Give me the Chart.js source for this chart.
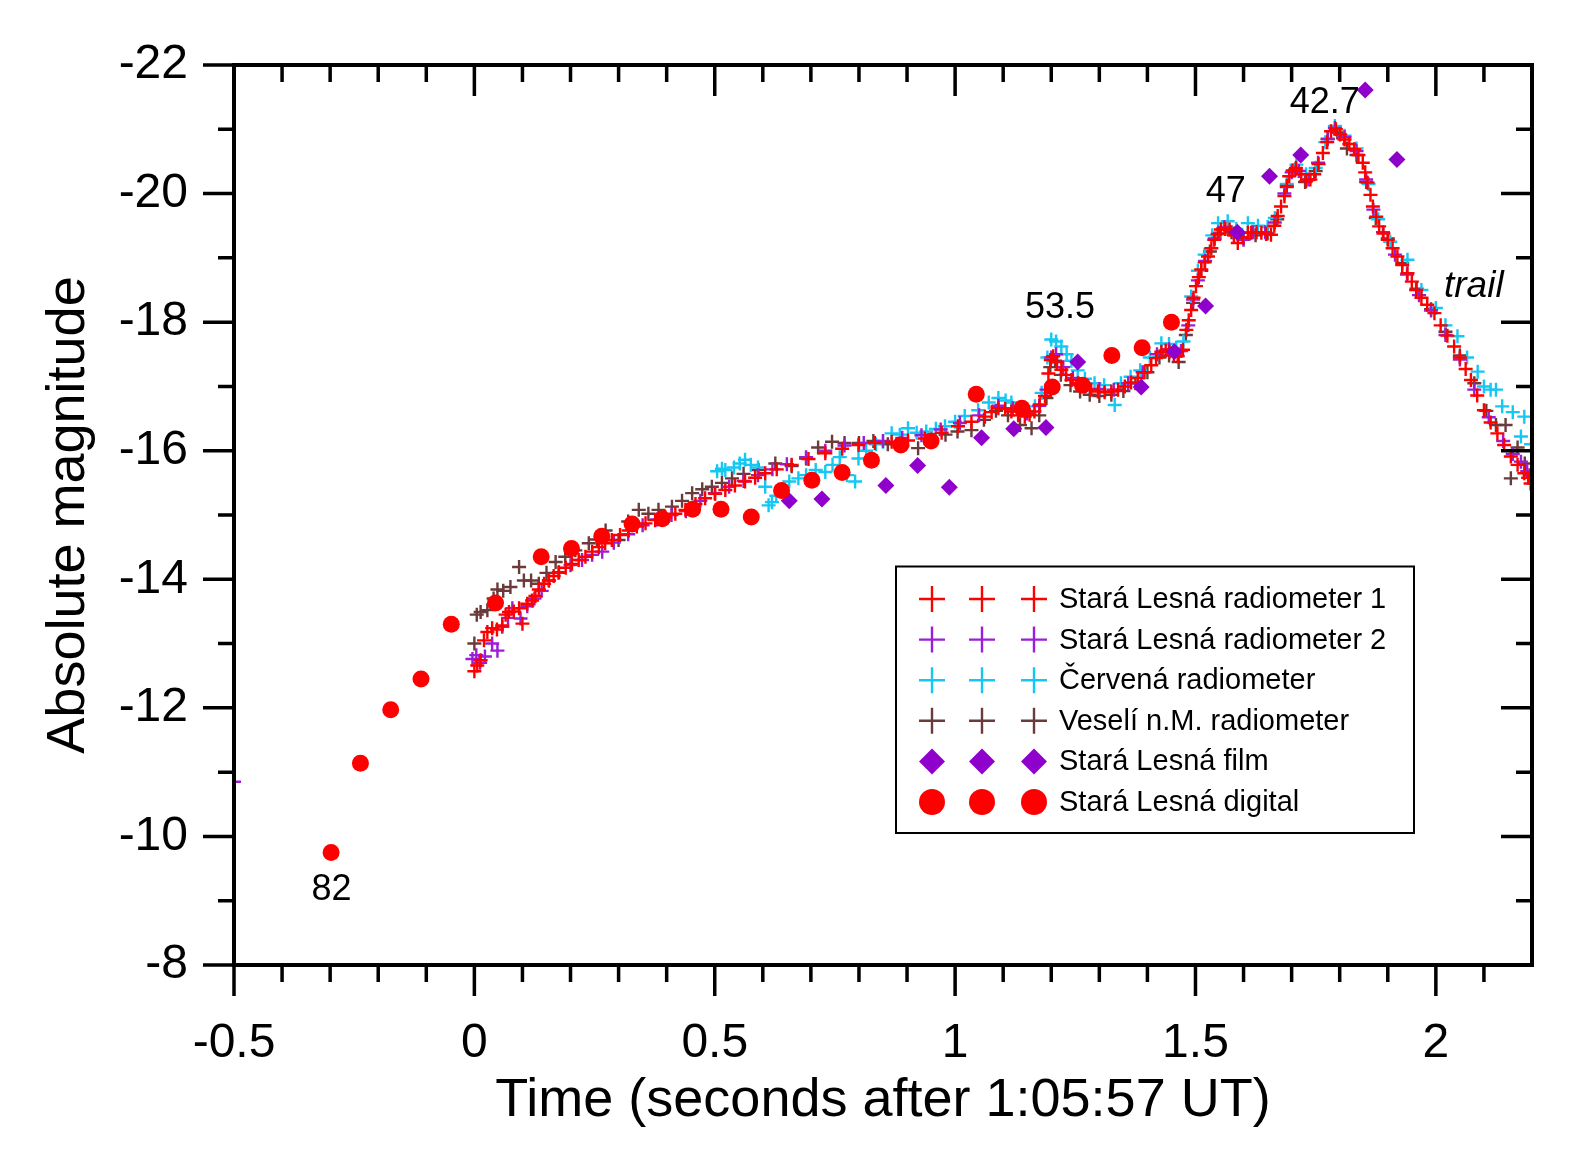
<!DOCTYPE html>
<html>
<head>
<meta charset="utf-8">
<script src="https://cdn.jsdelivr.net/npm/chart.js@4/dist/chart.umd.min.js"></script>
<style>
  html, body { margin: 0; padding: 0; background: #fff; }
  canvas { display: block; }
</style>
</head>
<body>
<canvas id="myChart" width="1586" height="1165"></canvas>
<script>
const ctx = document.getElementById('myChart');
const FONT = '"Liberation Sans", Arial, Helvetica, sans-serif';

// tick values
const xMajorTicks = [-0.5, 0, 0.5, 1, 1.5, 2];
const xMinorTicks = [-0.4, -0.3, -0.2, -0.1, 0.1, 0.2, 0.3, 0.4, 0.6, 0.7, 0.8, 0.9, 1.1, 1.2, 1.3, 1.4, 1.6, 1.7, 1.8, 1.9, 2.1];
const yMajorTicks = [-22, -20, -18, -16, -14, -12, -10, -8];
const yMinorTicks = [-21, -19, -17, -15, -13, -11, -9];

// Stará Lesná radiometer 1
const rad1Time = [0.000, 0.006, 0.013, 0.020, 0.027, 0.037, 0.047, 0.058, 0.065, 0.072, 0.082, 0.093, 0.100, 0.110, 0.120, 0.127, 0.134, 0.145, 0.155, 0.165, 0.176, 0.190, 0.203, 0.217, 0.231, 0.245, 0.259, 0.272, 0.286, 0.303, 0.321, 0.338, 0.356, 0.376, 0.397, 0.418, 0.439, 0.460, 0.480, 0.501, 0.522, 0.542, 0.563, 0.584, 0.605, 0.629, 0.660, 0.695, 0.730, 0.765, 0.799, 0.833, 0.868, 0.902, 0.937, 0.972, 1.006, 1.034, 1.062, 1.076, 1.090, 1.104, 1.117, 1.131, 1.145, 1.155, 1.165, 1.176, 1.187, 1.194, 1.199, 1.204, 1.212, 1.221, 1.231, 1.242, 1.256, 1.270, 1.283, 1.297, 1.311, 1.325, 1.339, 1.353, 1.366, 1.380, 1.394, 1.408, 1.418, 1.429, 1.438, 1.446, 1.455, 1.463, 1.474, 1.481, 1.486, 1.491, 1.496, 1.501, 1.507, 1.512, 1.519, 1.526, 1.533, 1.539, 1.546, 1.553, 1.562, 1.571, 1.580, 1.588, 1.598, 1.609, 1.616, 1.627, 1.637, 1.647, 1.657, 1.664, 1.671, 1.678, 1.685, 1.690, 1.695, 1.702, 1.709, 1.720, 1.730, 1.739, 1.747, 1.756, 1.765, 1.774, 1.782, 1.792, 1.801, 1.810, 1.820, 1.830, 1.839, 1.848, 1.853, 1.858, 1.864, 1.869, 1.876, 1.882, 1.891, 1.900, 1.910, 1.920, 1.930, 1.941, 1.950, 1.959, 1.970, 1.982, 1.997, 2.010, 2.024, 2.038, 2.050, 2.062, 2.073, 2.086, 2.100, 2.114, 2.128, 2.142, 2.156, 2.170, 2.184, 2.192, 2.197];
const rad1Mag = [-12.57, -12.66, -12.74, -13.05, -13.18, -13.24, -13.22, -13.28, -13.45, -13.49, -13.50, -13.55, -13.31, -13.62, -13.67, -13.74, -13.84, -13.93, -13.98, -14.05, -14.11, -14.18, -14.24, -14.30, -14.35, -14.43, -14.50, -14.56, -14.61, -14.69, -14.76, -14.82, -14.87, -14.92, -14.97, -15.02, -15.08, -15.17, -15.26, -15.33, -15.39, -15.46, -15.52, -15.58, -15.65, -15.71, -15.78, -15.87, -15.96, -16.03, -16.09, -16.12, -16.14, -16.16, -16.19, -16.28, -16.38, -16.45, -16.53, -16.60, -16.66, -16.65, -16.61, -16.55, -16.53, -16.56, -16.61, -16.72, -16.85, -17.20, -17.41, -17.47, -17.38, -17.26, -17.18, -17.10, -17.05, -17.00, -16.95, -16.92, -16.91, -16.92, -16.95, -17.00, -17.06, -17.13, -17.22, -17.33, -17.44, -17.54, -17.56, -17.54, -17.50, -17.47, -17.57, -17.88, -18.03, -18.19, -18.38, -18.56, -18.70, -18.82, -18.93, -19.02, -19.15, -19.28, -19.37, -19.44, -19.45, -19.44, -19.35, -19.23, -19.32, -19.39, -19.39, -19.40, -19.39, -19.37, -19.36, -19.50, -19.65, -19.80, -19.96, -20.12, -20.27, -20.36, -20.40, -20.30, -20.19, -20.22, -20.30, -20.46, -20.63, -20.80, -20.97, -21.00, -20.92, -20.84, -20.77, -20.69, -20.60, -20.48, -20.33, -20.17, -19.98, -19.80, -19.64, -19.49, -19.38, -19.28, -19.15, -19.02, -18.89, -18.76, -18.63, -18.50, -18.38, -18.27, -18.14, -17.95, -17.79, -17.62, -17.45, -17.27, -17.10, -16.86, -16.63, -16.44, -16.27, -16.09, -15.91, -15.78, -15.65, -15.58, -15.49];

// Stará Lesná radiometer 2
const rad2Time = [-0.500, -0.004, 0.004, 0.012, 0.022, 0.037, 0.048, 0.058, 0.070, 0.079, 0.096, 0.110, 0.125, 0.140, 0.155, 0.175, 0.200, 0.224, 0.245, 0.266, 0.290, 0.320, 0.350, 0.380, 0.410, 0.440, 0.470, 0.500, 0.530, 0.560, 0.590, 0.620, 0.650, 0.690, 0.730, 0.770, 0.810, 0.850, 0.890, 0.930, 0.970, 1.010, 1.050, 1.090, 1.120, 1.150, 1.175, 1.190, 1.200, 1.210, 1.225, 1.245, 1.270, 1.300, 1.330, 1.360, 1.390, 1.420, 1.445, 1.470, 1.485, 1.495, 1.505, 1.520, 1.540, 1.560, 1.580, 1.600, 1.620, 1.645, 1.665, 1.685, 1.700, 1.715, 1.735, 1.755, 1.775, 1.790, 1.810, 1.835, 1.855, 1.870, 1.890, 1.915, 1.940, 1.965, 1.990, 2.020, 2.050, 2.080, 2.110, 2.140, 2.160, 2.177, 2.190];
const rad2Mag = [-10.85, -12.76, -12.82, -12.70, -12.80, -13.00, -12.89, -13.26, -13.40, -13.55, -13.39, -13.58, -13.70, -13.82, -13.98, -14.10, -14.22, -14.30, -14.38, -14.43, -14.57, -14.70, -14.84, -14.93, -15.00, -15.06, -15.22, -15.34, -15.44, -15.53, -15.62, -15.71, -15.79, -15.90, -16.00, -16.08, -16.12, -16.15, -16.20, -16.24, -16.33, -16.43, -16.55, -16.70, -16.66, -16.58, -16.70, -16.95, -17.45, -17.50, -17.30, -17.13, -17.02, -16.96, -16.95, -17.05, -17.22, -17.50, -17.58, -17.55, -17.95, -18.35, -18.65, -18.95, -19.30, -19.48, -19.38, -19.28, -19.40, -19.40, -19.55, -20.00, -20.33, -20.35, -20.22, -20.48, -20.85, -21.02, -20.88, -20.66, -20.22, -19.75, -19.40, -19.05, -18.74, -18.42, -18.18, -17.80, -17.42, -16.95, -16.52, -16.15, -15.95, -15.83, -15.68];

// Červená radiometer
const cervTime = [0.505, 0.515, 0.522, 0.540, 0.552, 0.563, 0.575, 0.590, 0.605, 0.612, 0.619, 0.628, 0.640, 0.655, 0.674, 0.690, 0.710, 0.730, 0.745, 0.760, 0.775, 0.792, 0.799, 0.815, 0.835, 0.850, 0.868, 0.885, 0.902, 0.920, 0.940, 0.960, 0.979, 1.000, 1.020, 1.048, 1.070, 1.090, 1.105, 1.117, 1.135, 1.150, 1.166, 1.180, 1.192, 1.200, 1.210, 1.221, 1.232, 1.242, 1.255, 1.270, 1.290, 1.310, 1.332, 1.345, 1.365, 1.385, 1.405, 1.429, 1.445, 1.460, 1.475, 1.491, 1.505, 1.519, 1.535, 1.547, 1.567, 1.585, 1.609, 1.630, 1.650, 1.665, 1.690, 1.710, 1.730, 1.750, 1.770, 1.790, 1.810, 1.835, 1.860, 1.880, 1.905, 1.941, 1.970, 2.000, 2.020, 2.045, 2.065, 2.087, 2.100, 2.114, 2.125, 2.138, 2.160, 2.177, 2.184, 2.198];
const cervMag = [-15.68, -15.72, -15.70, -15.74, -15.80, -15.86, -15.78, -15.74, -15.44, -15.15, -15.20, -15.30, -15.38, -15.52, -15.57, -15.62, -15.70, -15.67, -15.78, -15.90, -15.62, -15.52, -15.88, -16.00, -16.10, -16.14, -16.27, -16.25, -16.35, -16.28, -16.30, -16.34, -16.38, -16.45, -16.54, -16.63, -16.75, -16.82, -16.78, -16.75, -16.62, -16.62, -16.69, -16.90, -17.45, -17.73, -17.70, -17.62, -17.50, -17.40, -17.25, -17.12, -17.05, -17.02, -16.71, -17.05, -17.15, -17.25, -17.45, -17.67, -17.66, -17.60, -17.70, -18.40, -18.80, -19.05, -19.35, -19.54, -19.57, -19.45, -19.54, -19.50, -19.48, -19.62, -20.15, -20.45, -20.30, -20.40, -20.80, -21.05, -20.90, -20.70, -20.15, -19.60, -19.25, -18.97, -18.50, -18.22, -17.95, -17.78, -17.45, -17.23, -17.00, -16.95, -16.95, -16.69, -16.60, -16.22, -16.53, -16.10];

// Veselí n.M. radiometer
const veselTime = [0.000, 0.005, 0.013, 0.027, 0.040, 0.048, 0.060, 0.075, 0.093, 0.103, 0.118, 0.134, 0.150, 0.169, 0.189, 0.210, 0.238, 0.255, 0.273, 0.300, 0.320, 0.342, 0.362, 0.383, 0.411, 0.432, 0.453, 0.474, 0.494, 0.515, 0.536, 0.560, 0.591, 0.626, 0.660, 0.690, 0.715, 0.744, 0.770, 0.800, 0.830, 0.860, 0.890, 0.923, 0.950, 0.980, 1.005, 1.034, 1.060, 1.085, 1.110, 1.135, 1.159, 1.175, 1.190, 1.198, 1.208, 1.220, 1.240, 1.260, 1.280, 1.300, 1.325, 1.350, 1.375, 1.400, 1.425, 1.445, 1.465, 1.480, 1.495, 1.512, 1.530, 1.550, 1.575, 1.600, 1.625, 1.650, 1.670, 1.690, 1.708, 1.728, 1.750, 1.775, 1.795, 1.815, 1.835, 1.855, 1.875, 1.900, 1.930, 1.960, 1.990, 2.020, 2.050, 2.080, 2.105, 2.125, 2.145, 2.156, 2.170, 2.185, 2.195];
const veselMag = [-13.00, -13.45, -13.49, -13.52, -13.70, -13.84, -13.82, -13.88, -14.19, -13.98, -13.98, -13.93, -14.10, -14.27, -14.35, -14.45, -14.56, -14.62, -14.76, -14.61, -14.90, -15.08, -15.02, -15.08, -15.13, -15.22, -15.34, -15.40, -15.44, -15.50, -15.57, -15.64, -15.70, -15.80, -15.76, -15.88, -16.05, -16.14, -16.12, -16.12, -16.15, -16.10, -16.08, -16.04, -16.18, -16.25, -16.30, -16.32, -16.48, -16.62, -16.55, -16.40, -16.35, -16.55, -16.82, -17.30, -17.40, -17.18, -17.02, -16.92, -16.87, -16.85, -16.87, -16.93, -17.05, -17.22, -17.45, -17.48, -17.38, -17.80, -18.30, -18.80, -19.10, -19.38, -19.40, -19.30, -19.35, -19.38, -19.60, -20.10, -20.38, -20.18, -20.35, -20.85, -20.95, -20.70, -20.60, -20.18, -19.62, -19.30, -18.92, -18.52, -18.20, -17.85, -17.48, -17.05, -16.62, -16.40, -16.40, -15.57, -16.05, -15.80, -15.62];

// Stará Lesná film
const filmTime = [0.655, 0.723, 0.856, 0.922, 0.988, 1.055, 1.122, 1.189, 1.255, 1.387, 1.456, 1.521, 1.587, 1.654, 1.719, 1.853, 1.919];
const filmMag = [-15.22, -15.25, -15.46, -15.77, -15.43, -16.20, -16.34, -16.36, -17.38, -16.99, -17.54, -18.25, -19.40, -20.27, -20.60, -21.61, -20.53];

// Stará Lesná digital
const digitalTime = [-0.298, -0.237, -0.174, -0.111, -0.048, 0.044, 0.139, 0.202, 0.265, 0.328, 0.391, 0.454, 0.513, 0.576, 0.639, 0.702, 0.765, 0.826, 0.887, 0.950, 1.044, 1.139, 1.202, 1.265, 1.326, 1.389, 1.450];
const digitalMag = [-9.75, -11.14, -11.97, -12.45, -13.30, -13.63, -14.35, -14.48, -14.67, -14.86, -14.94, -15.09, -15.09, -14.97, -15.38, -15.54, -15.66, -15.85, -16.09, -16.15, -16.88, -16.66, -16.99, -17.02, -17.48, -17.60, -18.00];

// annotation labels (text, time, magnitude)
const noteText = ['82', '53.5', '47', '42.7'];
const noteTime = [-0.297, 1.218, 1.563, 1.769];
const noteMag = [-9.16, -18.22, -20.03, -21.40];

const legendNames = ['Stará Lesná radiometer 1', 'Stará Lesná radiometer 2', 'Červená radiometer', 'Veselí n.M. radiometer', 'Stará Lesná film', 'Stará Lesná digital'];

function pts(t, m) { return t.map((v, i) => ({ x: v, y: m[i] })); }

function crossSet(label, t, m, color) {
  return { label: label, data: pts(t, m), pointStyle: 'cross', pointRadius: 7, pointBorderWidth: 2.4,
    borderColor: color, backgroundColor: color, pointHoverRadius: 7, showLine: false, _legend: 'cross' };
}

const datasets = [
  { label: legendNames[5], data: pts(digitalTime, digitalMag), pointStyle: 'circle', pointRadius: 8.5, pointBorderWidth: 0,
    backgroundColor: '#ff0000', borderColor: '#ff0000', showLine: false, _legend: 'circle' },
  { label: legendNames[4], data: pts(filmTime, filmMag), pointStyle: 'rectRot', pointRadius: 8.5, pointBorderWidth: 0,
    backgroundColor: '#9000cc', borderColor: '#9000cc', showLine: false, _legend: 'diamond' },
  crossSet(legendNames[0], rad1Time, rad1Mag, '#ff0000'),
  crossSet(legendNames[1], rad2Time, rad2Mag, '#9b1ed6'),
  crossSet(legendNames[2], cervTime, cervMag, '#14c8f4'),
  crossSet(legendNames[3], veselTime, veselMag, '#6b3a3a')
];

const framePlugin = {
  id: 'frame',
  afterDatasetsDraw(chart) {
    const c = chart.ctx, a = chart.chartArea, xs = chart.scales.x, ys = chart.scales.y;
    c.save();
    c.strokeStyle = '#000';
    c.lineCap = 'butt';
    // ticks
    c.lineWidth = 3.5;
    c.beginPath();
    xMajorTicks.concat(xMinorTicks).forEach(v => {
      const len = xMajorTicks.includes(v) ? 31 : 17;
      const px = xs.getPixelForValue(v);
      c.moveTo(px, a.bottom); c.lineTo(px, a.bottom + len);
      c.moveTo(px, a.top); c.lineTo(px, a.top + len);
    });
    yMajorTicks.concat(yMinorTicks).forEach(v => {
      const len = yMajorTicks.includes(v) ? 31 : 16;
      const py = ys.getPixelForValue(v);
      c.moveTo(a.left, py); c.lineTo(a.left - len, py);
      c.moveTo(a.right, py); c.lineTo(a.right - len, py);
    });
    c.stroke();
    // frame
    c.lineWidth = 4;
    c.strokeRect(a.left, a.top, a.right - a.left, a.bottom - a.top);

    // annotations
    c.fillStyle = '#000';
    c.textAlign = 'center';
    c.textBaseline = 'middle';
    c.font = '36px ' + FONT;
    noteText.forEach((s, i) => c.fillText(s, xs.getPixelForValue(noteTime[i]), ys.getPixelForValue(noteMag[i])));
    c.font = 'italic 37px ' + FONT;
    c.fillText('trail', xs.getPixelForValue(2.079), ys.getPixelForValue(-18.555));

    // legend with three markers per row
    const lx = 896, ly = 566.5, lw = 518, lh = 266.5;
    c.fillStyle = '#fff';
    c.fillRect(lx, ly, lw, lh);
    c.lineWidth = 2;
    c.strokeRect(lx, ly, lw, lh);
    const order = [2, 3, 4, 5, 1, 0];
    const mx = [932, 982, 1034];
    order.forEach((di, row) => {
      const ds = chart.data.datasets[di];
      const y = 599 + row * 40.6;
      mx.forEach(x => {
        c.beginPath();
        if (ds._legend === 'cross') {
          c.strokeStyle = ds.borderColor; c.lineWidth = 2.4;
          c.moveTo(x - 13, y); c.lineTo(x + 13, y);
          c.moveTo(x, y - 13); c.lineTo(x, y + 13);
          c.stroke();
        } else if (ds._legend === 'diamond') {
          c.fillStyle = ds.backgroundColor;
          c.moveTo(x, y - 13); c.lineTo(x + 13, y); c.lineTo(x, y + 13); c.lineTo(x - 13, y);
          c.closePath(); c.fill();
        } else {
          c.fillStyle = ds.backgroundColor;
          c.arc(x, y, 13, 0, Math.PI * 2); c.fill();
        }
      });
      c.fillStyle = '#000';
      c.textAlign = 'left';
      c.textBaseline = 'middle';
      c.font = '29px ' + FONT;
      c.fillText(ds.label, 1059, y + 1);
    });
    c.restore();
  }
};

new Chart(ctx, {
  type: 'scatter',
  data: { datasets: datasets },
  options: {
    responsive: false,
    animation: false,
    events: [],
    layout: { padding: { left: 0, right: 54, top: 65, bottom: 0 } },
    plugins: { legend: { display: false }, tooltip: { enabled: false } },
    scales: {
      x: {
        type: 'linear', min: -0.5, max: 2.2,
        grid: { display: false, drawTicks: false },
        border: { display: false },
        afterBuildTicks: s => { s.ticks = xMajorTicks.map(v => ({ value: v })); },
        afterFit: s => { s.height = 200; s.paddingLeft = 0; s.paddingRight = 0; },
        ticks: { color: '#000', font: { family: FONT, size: 48 }, padding: 50, maxRotation: 0, autoSkip: false,
          callback: v => String(v) },
        title: { display: true, text: 'Time (seconds after 1:05:57 UT)', color: '#000',
          font: { family: FONT, size: 54 }, padding: { top: 0, bottom: 31 } }
      },
      y: {
        type: 'linear', min: -22, max: -8, reverse: true,
        grid: { display: false, drawTicks: false },
        border: { display: false },
        afterBuildTicks: s => { s.ticks = yMajorTicks.map(v => ({ value: v })); },
        afterFit: s => { s.width = 234; s.paddingTop = 0; s.paddingBottom = 0; },
        ticks: { color: '#000', font: { family: FONT, size: 48 }, padding: 46, autoSkip: false,
          callback: v => String(v) },
        title: { display: true, text: 'Absolute magnitude', color: '#000',
          font: { family: FONT, size: 54 }, padding: { top: 37, bottom: 0 } }
      }
    }
  },
  plugins: [framePlugin]
});
</script>
</body>
</html>
